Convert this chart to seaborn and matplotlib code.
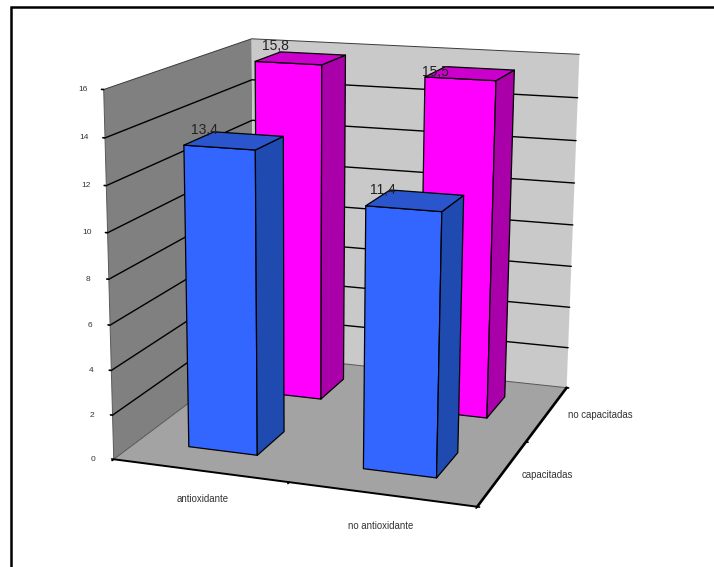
import numpy as np
import pandas as pd
import matplotlib
matplotlib.use("Agg")
import matplotlib.pyplot as plt
import seaborn as sns
from matplotlib.lines import Line2D
from mpl_toolkits.mplot3d import proj3d
from mpl_toolkits.mplot3d.art3d import Poly3DCollection, Line3DCollection

# Chart values
treatments = ["antioxidante", "no antioxidante"]
states = ["capacitadas", "no capacitadas"]
values_capacitadas = [13.4, 11.4]
values_no_capacitadas = [15.8, 15.5]
z_ticks = [0, 2, 4, 6, 8, 10, 12, 14, 16]

sns.set_theme(style="white", font="Liberation Sans")

table = pd.DataFrame({
    "treatment": treatments * 2,
    "state": [states[0]] * 2 + [states[1]] * 2,
    "value": values_capacitadas + values_no_capacitadas,
})

W, H = 714, 567
fig = plt.figure(figsize=(W / 100, H / 100), dpi=100, facecolor="white")
ax = fig.add_axes([0, 0, 1, 1], projection="3d")
ax.set_axis_off()
ax.computed_zorder = False

# Camera: a projective map from (category, depth, value) to canvas pixels,
# solved from the box corners.
x_end, y_end, z_end = len(treatments), len(states), z_ticks[-1]
box_corners = [
    ((0, 0, 0), (116, 459)),
    ((x_end, 0, 0), (476, 508)),
    ((x_end, y_end, 0), (568, 386)),
    ((0, y_end, 0), (251.5, 355)),
    ((0, 0, z_end), (102.5, 88.5)),
    ((0, y_end, z_end), (253, 39)),
    ((x_end, y_end, z_end), (579, 55)),
]
rows = []
for (bx, by, bz), (u, v) in box_corners:
    rows.append([bx, by, bz, 1, 0, 0, 0, 0, -u * bx, -u * by, -u * bz, -u])
    rows.append([0, 0, 0, 0, bx, by, bz, 1, -v * bx, -v * by, -v * bz, -v])
P = np.linalg.svd(np.array(rows, float))[2][-1].reshape(3, 4)
P = P / P[2, 3]
M = np.array([P[0], P[1], [0, 1, 0, 0], P[2]])

ax.get_proj = lambda: M
ax.apply_aspect = lambda position=None: None
ax.viewLim.intervalx = (0, W)
ax.viewLim.intervaly = (H, 0)


def face(verts, color, order, edge="none", lw=0.0):
    poly = Poly3DCollection([verts], facecolors=color, edgecolors=edge,
                            linewidths=lw, zorder=order)
    ax.add_collection3d(poly, autolim=False)


def line(xs, ys, zs, color="black", lw=1.0, order=3):
    points = np.column_stack([xs, ys, zs])
    path = Line3DCollection([points], colors=color, linewidths=lw, zorder=order,
                            capstyle="round")
    ax.add_collection3d(path, autolim=False)


def label(x, y, z, text, dx, dy, size, color):
    px, py, _ = proj3d.proj_transform(x, y, z, M)
    ax.annotate(text, xy=(px, py), xytext=(dx, dy), textcoords="offset pixels",
                ha="center", va="center", fontsize=size, color=color,
                annotation_clip=False, zorder=20)


# Walls and floor
face([(0, 0, 0), (0, y_end, 0), (0, y_end, z_end), (0, 0, z_end)], "#808080", 1)
face([(0, y_end, 0), (x_end, y_end, 0), (x_end, y_end, z_end), (0, y_end, z_end)], "#C9C9C9", 1)
face([(0, 0, 0), (x_end, 0, 0), (x_end, y_end, 0), (0, y_end, 0)], "#A3A3A3", 1)

# Horizontal gridlines running across both walls
for tick in z_ticks[1:]:
    shade = "#3A3A3A" if tick == z_end else "black"
    width = 0.7 if tick == z_end else 1.0
    line([0, 0, x_end], [0, y_end, y_end], [tick, tick, tick], shade, width, 2)
line([0, 0], [0, y_end], [0, 0], "#555555", 0.7, 2)
line([0, x_end], [y_end, y_end], [0, 0], "#555555", 0.7, 2)

# Axis lines with their tick marks
line([0, x_end], [0, 0], [0, 0], "black", 1.4, 3)
line([x_end, x_end], [0, y_end], [0, 0], "black", 1.9, 3)
line([0, 0], [0, 0], [0, z_end], "#5A5A5A", 0.7, 3)
for tick in z_ticks:
    line([-0.012, 0], [0, 0], [tick, tick], "black", 1.2, 3)
    label(0, 0, tick, str(tick), -20.5, 0, 6.0, "#333333")
for i in range(x_end + 1):
    line([i, i], [-0.02, 0], [0, 0], "black", 1.2, 3)
for i in range(y_end + 1):
    line([x_end, x_end + 0.012], [i, i], [0, 0], "black", 1.2, 3)

label(0.5, 0, 0, treatments[0], 2.5, -28.5, 6.9, "#333333")
label(1.5, 0, 0, treatments[1], -0.5, -31.5, 6.9, "#333333")
label(x_end, 0.5, 0, states[0], 45, -1.7, 6.9, "#333333")
label(x_end, 1.5, 0, states[1], 53, -1, 6.9, "#333333")

# Bars: front, side and top faces per series, back row first
bar_half = 0.2
width_shift = -0.008
depth_shift = 0.02
label_nudges = {
    (states[0], treatments[0]): (-9, 1),
    (states[0], treatments[1]): (-7, -1),
    (states[1], treatments[0]): (-5, 5),
    (states[1], treatments[1]): (-10, -6),
}
series_colors = {
    states[0]: sns.color_palette(["#3366FF", "#1F4BB0", "#2B55CC"]),
    states[1]: sns.color_palette(["#FF00FF", "#AA00AA", "#CC00CC"]),
}
order = 5
for row_index, state in reversed(list(enumerate(states))):
    subset = table[table["state"] == state]
    front, side, top = series_colors[state]
    for col_index, treatment in enumerate(treatments):
        value = subset.loc[subset["treatment"] == treatment, "value"].iloc[0]
        x0 = col_index + 0.5 + width_shift - bar_half
        x1 = col_index + 0.5 + width_shift + bar_half
        y0 = row_index + 0.5 + depth_shift - bar_half
        y1 = row_index + 0.5 + depth_shift + bar_half
        face([(x0, y0, 0), (x1, y0, 0), (x1, y0, value), (x0, y0, value)], front, order, "black", 0.9)
        face([(x1, y0, 0), (x1, y1, 0), (x1, y1, value), (x1, y0, value)], side, order, "black", 0.9)
        face([(x0, y0, value), (x1, y0, value), (x1, y1, value), (x0, y1, value)], top, order, "black", 0.9)
        order += 1
        dx, dy = label_nudges[(state, treatment)]
        label(x0, y1, value, f"{value:.1f}".replace(".", ","), dx, dy, 10, "#222222")

# Outer frame, open towards the right and bottom of the canvas
fig.add_artist(Line2D([10.5 / W, 10.5 / W, 1], [0, 1 - 6.8 / H, 1 - 6.8 / H],
                      color="black", lw=1.8, solid_joinstyle="miter"))

fig.savefig("out.png", dpi=100, facecolor="white")
